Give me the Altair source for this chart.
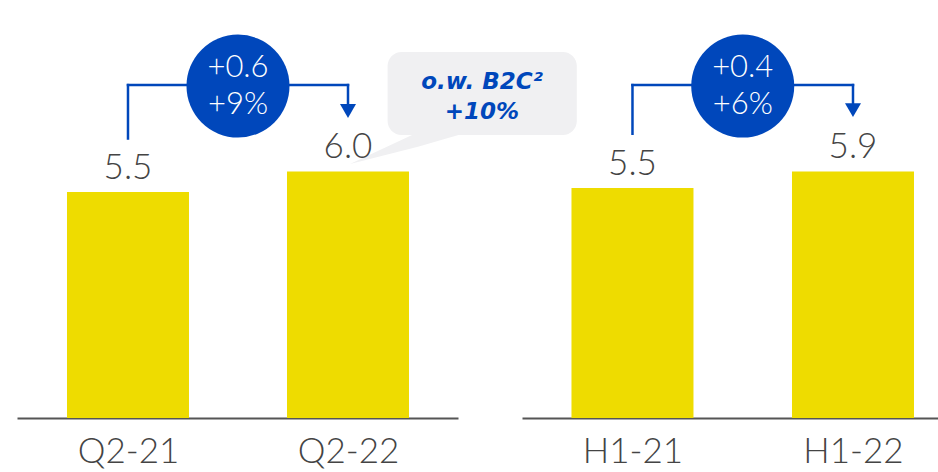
import altair as alt
import pandas as pd

# Values per panel
left_categories = ["Q2-21", "Q2-22"]
left_values = [5.5, 6.0]
left_change = ["+0.6", "+9%"]

right_categories = ["H1-21", "H1-22"]
right_values = [5.5, 5.9]
right_change = ["+0.4", "+6%"]

callout_lines = ["o.w. B2C²", "+10%"]

YELLOW = "#EEDC00"
BLUE = "#0047BB"
GREY_TEXT = "#444444"
AXIS_GREY = "#555555"
BOX_GREY = "#F0F0F2"
FONT = "Lato"
PLOT_H = 418


def panel(categories, values, change, width, x_domain, extra=None):
    y_top = max(values) * 1.695
    px = y_top / PLOT_H          # data units per pixel
    bracket_y = max(values) * 1.35
    lift = 1.3

    xs = alt.Scale(domain=x_domain, nice=False, zero=False, padding=0)
    ys = alt.Scale(domain=[0, y_top], nice=False)
    label_expr = "[" + ",".join(f"'{c}'" for c in categories) + "][datum.value]"
    x_axis = alt.Axis(values=[0, 1], labelExpr=label_expr, ticks=False, grid=False,
                      domainColor=AXIS_GREY, domainWidth=2, labelFontSize=35,
                      labelFont=FONT, labelFontWeight=300, labelColor=GREY_TEXT,
                      labelPadding=16, title=None)

    bars_df = pd.DataFrame({"pos": [0, 1], "cat": categories, "value": values})
    base = alt.Chart(bars_df)

    bars = base.mark_bar(size=122, color=YELLOW).encode(
        x=alt.X("pos:Q", scale=xs, axis=x_axis),
        y=alt.Y("value:Q", scale=ys, axis=None),
    )
    labels = base.mark_text(dy=-13, baseline="alphabetic", fontSize=35, font=FONT,
                            fontWeight=300, color=GREY_TEXT).encode(
        x="pos:Q", y="value:Q", text=alt.Text("value:Q", format=".1f"))

    # bracket from the first bar to the arrow above the second bar
    seg_df = pd.DataFrame({
        "x": [0, 0, 1],
        "x2": [0, 1, 1],
        "y": [values[0] + lift, bracket_y, bracket_y],
        "y2": [bracket_y, bracket_y, values[1] + lift + 8 * px],
    })
    bracket = alt.Chart(seg_df).mark_rule(color=BLUE, strokeWidth=2.5, strokeCap="square").encode(
        x="x:Q", x2="x2:Q", y="y:Q", y2="y2:Q")

    head_df = pd.DataFrame({"x": [1], "y": [values[1] + lift]})
    head = alt.Chart(head_df).mark_point(shape="triangle-down", filled=True, size=256,
                                         opacity=1, color=BLUE, yOffset=-7).encode(
        x="x:Q", y="y:Q")

    badge_df = pd.DataFrame({"x": [0.5], "y": [bracket_y], "t": ["\n".join(change)]})
    badge = alt.Chart(badge_df).mark_point(shape="circle", filled=True, size=103 * 103,
                                           opacity=1, color=BLUE, yOffset=1).encode(
        x="x:Q", y="y:Q")
    badge_text = alt.Chart(badge_df).mark_text(lineBreak="\n", lineHeight=37, fontSize=31,
                                               font=FONT, fontWeight=300, color="white",
                                               baseline="middle", dy=-17).encode(
        x="x:Q", y="y:Q", text="t:N")

    layers = [bars, labels, bracket, head, badge, badge_text]
    if extra is not None:
        layers = layers[:1] + extra + layers[1:]
    return alt.layer(*layers).properties(width=width, height=PLOT_H)


# Callout above the Q2-22 bar (left-panel data units)
box_df = pd.DataFrame({"x": [1.18], "x2": [2.04], "y": [6.886], "y2": [8.905]})
box = alt.Chart(box_df).mark_rect(color=BOX_GREY, cornerRadius=14).encode(
    x="x:Q", x2="x2:Q", y="y:Q", y2="y2:Q")
tail_df = pd.DataFrame({"x": [1.009, 1.318, 1.545],
                        "y": [6.18, 6.95, 6.95],
                        "y2": [6.18, 6.60, 6.95]})
tail = alt.Chart(tail_df).mark_area(color=BOX_GREY, opacity=1).encode(
    x="x:Q", y="y:Q", y2="y2:Q")
callout_df = pd.DataFrame({"x": [1.609], "y": [7.81], "t": ["\n".join(callout_lines)]})
callout_text = alt.Chart(callout_df).mark_text(lineBreak="\n", lineHeight=30, fontSize=23,
                                               font="DejaVu Sans", fontWeight="bold",
                                               fontStyle="italic", color=BLUE,
                                               baseline="middle", dy=-15).encode(
    x="x:Q", y="y:Q", text="t:N")

left = panel(left_categories, left_values, left_change, 441, [-0.5045, 1.5],
             extra=[tail, box, callout_text])
right = panel(right_categories, right_values, right_change, 416, [-0.501, 1.3855])

chart = alt.hconcat(left, right, spacing=64, bounds="flush").properties(
    padding={"left": 17, "top": 0, "right": 0, "bottom": 0},
    background="white",
).configure_view(stroke=None)

chart.save("out.html", embed_options={"renderer": "svg", "actions": False})
